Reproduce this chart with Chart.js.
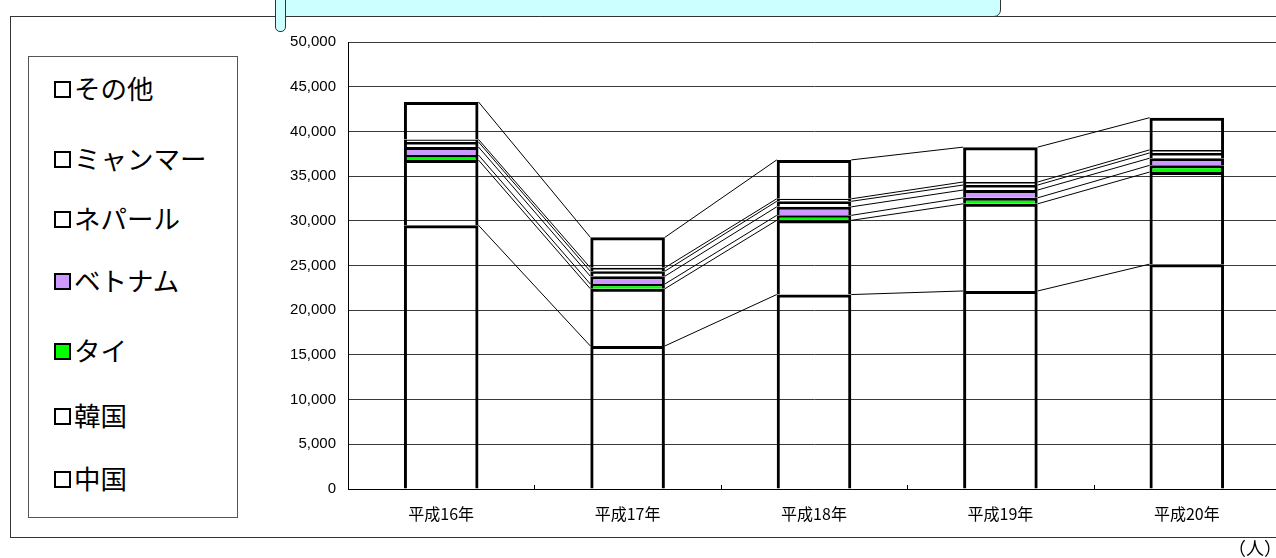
<!DOCTYPE html>
<html lang="ja">
<head>
<meta charset="utf-8">
<title>外国人数の推移</title>
<script src="https://cdn.jsdelivr.net/npm/chart.js@4/dist/chart.umd.min.js"></script>
<style>
  html, body { margin: 0; padding: 0; background: #fff; overflow: hidden; }
  body { width: 1276px; height: 558px; position: relative; }
  #frame { position: absolute; left: 10px; top: 16px; width: 1300px; height: 520px; border: 1.5px solid #333; }
  #wrap { position: absolute; left: 0; top: 0; width: 1290px; height: 558px; }
  #callout { position: absolute; left: 283px; top: -10px; width: 716px; height: 25px; background: #ccffff; border: 1.5px solid #333; border-radius: 0 0 7px 0; }
  #tab { position: absolute; left: 275px; top: -10px; width: 9px; height: 40px; background: #ccffff; border: 1.5px solid #333; border-radius: 5px; }
  #legend { position: absolute; left: 28px; top: 56px; width: 208px; height: 460px; border: 1.5px solid #555; background: #fff; font-family: "Noto Sans CJK JP", sans-serif; font-size: 26.5px; color: #000; }
  #legend .item { position: absolute; left: 25px; height: 30px; line-height: 30px; white-space: nowrap; }
  #legend .box { display: inline-block; width: 13px; height: 13px; border: 2px solid #000; margin-right: 3px; vertical-align: 1px; }
  #unit { position: absolute; left: 1228px; top: 534px; font-family: "Noto Sans CJK JP", sans-serif; font-size: 18px; }
</style>
</head>
<body>
<div id="frame"></div>
<div id="wrap"><canvas id="stays" width="1290" height="558"></canvas></div>
<div id="legend"></div>
<div id="callout"></div>
<div id="tab"></div>
<div id="unit">（人）</div>
<script>
// 年次と国籍別の人数（下から積み上げる順）
const years = ['平成16年', '平成17年', '平成18年', '平成19年', '平成20年'];
const china   = [29500, 16000, 21750, 22150, 25150];
const korea   = [7300, 6400, 8300, 9750, 10300];
const thai    = [560, 530, 560, 670, 750];
const vietnam = [900, 870, 950, 870, 800];
const nepal   = [560, 560, 620, 560, 590];
const myanmar = [280, 390, 280, 340, 340];
const others  = [4200, 3400, 4350, 3900, 3600];

const seriesNames  = ['中国', '韓国', 'タイ', 'ベトナム', 'ネパール', 'ミャンマー', 'その他'];
const seriesValues = [china, korea, thai, vietnam, nepal, myanmar, others];
const seriesFills  = ['rgba(0,0,0,0)', 'rgba(0,0,0,0)', '#00ff00', '#cc99ff', 'rgba(0,0,0,0)', 'rgba(0,0,0,0)', 'rgba(0,0,0,0)'];
const legendFills  = ['#fff', '#fff', '#00ff00', '#cc99ff', '#fff', '#fff', '#fff'];

const yTicks = { min: 0, max: 50000, step: 5000 };

const datasets = seriesNames.map((name, i) => ({
  label: name,
  data: seriesValues[i],
  backgroundColor: seriesFills[i],
  borderColor: '#000',
  borderWidth: { top: 3, left: 3, right: 3, bottom: 0 },
  borderSkipped: false,
  categoryPercentage: 1,
  barPercentage: 0.4
}));

// 棒の間をつなぐ区分線
const seriesLines = {
  id: 'seriesLines',
  afterDatasetsDraw(chart) {
    const ctx = chart.ctx;
    ctx.save();
    ctx.strokeStyle = '#000';
    ctx.lineWidth = 1;
    chart.data.datasets.forEach((ds, d) => {
      const bars = chart.getDatasetMeta(d).data;
      for (let i = 0; i < bars.length - 1; i++) {
        const a = bars[i].getProps(['x', 'y', 'width'], true);
        const b = bars[i + 1].getProps(['x', 'y', 'width'], true);
        ctx.beginPath();
        ctx.moveTo(a.x + a.width / 2, a.y);
        ctx.lineTo(b.x - b.width / 2, b.y);
        ctx.stroke();
      }
    });
    ctx.restore();
  }
};

// 横軸の内向き目盛り
const innerTicks = {
  id: 'innerTicks',
  afterDraw(chart) {
    const x = chart.scales.x;
    const ctx = chart.ctx;
    const bottom = chart.chartArea.bottom;
    ctx.save();
    ctx.strokeStyle = '#000';
    ctx.lineWidth = 1;
    for (let i = 0; i < years.length - 1; i++) {
      const px = Math.round((x.getPixelForTick(i) + x.getPixelForTick(i + 1)) / 2) + 0.5;
      ctx.beginPath();
      ctx.moveTo(px, bottom);
      ctx.lineTo(px, bottom - 4);
      ctx.stroke();
    }
    ctx.restore();
  }
};

new Chart(document.getElementById('stays'), {
  type: 'bar',
  data: { labels: years, datasets },
  options: {
    responsive: false,
    animation: false,
    devicePixelRatio: 1,
    layout: { padding: { left: 0, top: 42, right: 10, bottom: 0 } },
    plugins: {
      legend: { display: false },
      tooltip: { enabled: false }
    },
    scales: {
      x: {
        stacked: true,
        afterFit(scale) { scale.height = 69; },
        grid: { display: false, drawTicks: false },
        border: { display: true, color: '#000', width: 1 },
        ticks: {
          padding: 15,
          color: '#000',
          font: { family: '"Noto Sans CJK JP", sans-serif', size: 16 }
        }
      },
      y: {
        stacked: true,
        min: yTicks.min,
        max: yTicks.max,
        afterFit(scale) { scale.width = 348; },
        grid: { color: '#3a3a3a', lineWidth: 1, drawTicks: false },
        border: { display: true, color: '#000', width: 1 },
        ticks: {
          stepSize: yTicks.step,
          padding: 12,
          color: '#000',
          font: { family: '"Liberation Sans", Arial, sans-serif', size: 15 },
          callback: v => v.toLocaleString('en-US')
        }
      }
    }
  },
  plugins: [seriesLines, innerTicks]
});

// 凡例（上から その他 → 中国）
const legend = document.getElementById('legend');
const legendTop = [16, 86, 146, 208, 278, 343, 406];
seriesNames.slice().reverse().forEach((name, k) => {
  const i = seriesNames.length - 1 - k;
  const item = document.createElement('div');
  item.className = 'item';
  item.style.top = legendTop[k] + 'px';
  const box = document.createElement('span');
  box.className = 'box';
  box.style.background = legendFills[i];
  item.appendChild(box);
  item.appendChild(document.createTextNode(name));
  legend.appendChild(item);
});
</script>
</body>
</html>
